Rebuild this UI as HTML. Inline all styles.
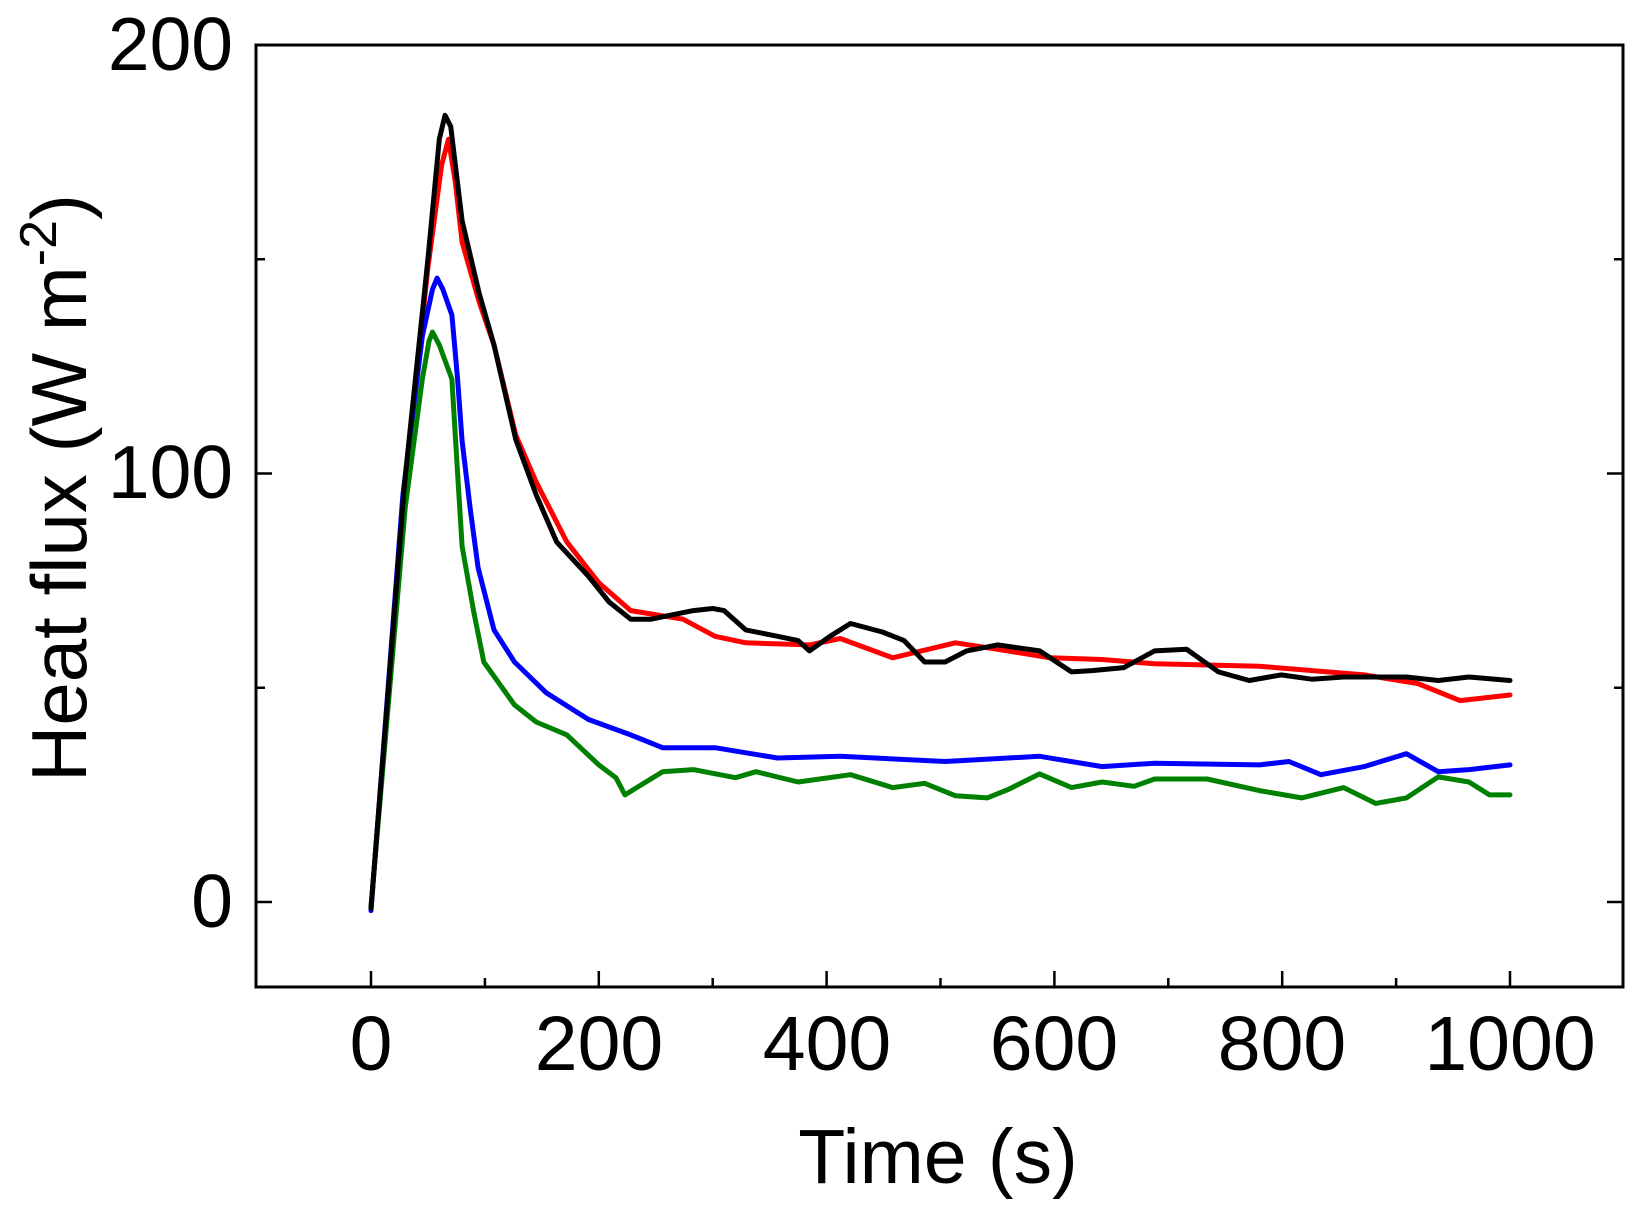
<!DOCTYPE html>
<html><head><meta charset="utf-8"><style>
html,body{margin:0;padding:0;background:#fff;}
svg{display:block;}
text{font-family:"Liberation Sans",Arial,sans-serif;fill:#000;}
</style></head><body>
<svg id="s" width="1646" height="1207" viewBox="0 0 1646 1207" xmlns="http://www.w3.org/2000/svg">
<g id="ticks" stroke="#000" stroke-width="2.5"></g>
<g id="series" fill="none" stroke-width="5" stroke-linejoin="round" stroke-linecap="round"></g>
<rect x="256" y="45" width="1367" height="942" fill="none" stroke="#000" stroke-width="3"/>
<g font-size="75" text-anchor="end">
<text x="233" y="70">200</text>
<text x="233" y="498">100</text>
<text x="233" y="927">0</text>
</g>
<g font-size="77" text-anchor="middle">
<text x="371" y="1070">0</text>
<text x="599" y="1070">200</text>
<text x="827" y="1070">400</text>
<text x="1054" y="1070">600</text>
<text x="1282" y="1070">800</text>
<text x="1510" y="1070">1000</text>
<text x="938" y="1183">Time (s)</text>
</g>
<text font-size="78" text-anchor="middle" transform="translate(86,488) rotate(-90)">Heat flux (W m<tspan dy="-30" font-size="52">-2</tspan><tspan dy="30">)</tspan></text>
</svg>
<script>
function X(t){return 371+t*1.139;}
function Y(v){return 902-v*4.285;}
var ns="http://www.w3.org/2000/svg";
var tk=document.getElementById('ticks');
function line(x1,y1,x2,y2){var l=document.createElementNS(ns,'line');l.setAttribute('x1',x1);l.setAttribute('y1',y1);l.setAttribute('x2',x2);l.setAttribute('y2',y2);tk.appendChild(l);}
for(var t=0;t<=1000;t+=100){var L=(t%200==0)?16:9;line(X(t),987,X(t),987-L);}
for(var v=0;v<=200;v+=50){var L=(v%100==0)?16:9;line(256,Y(v),256+L,Y(v));line(1623,Y(v),1623-L,Y(v));}
var data={
black:[[0,-1.5],[29.5,97.8],[50,150],[60,178],[65,183.6],[70,181],[75,170],[80,159],[95,142],[108,130],[127,108],[145,95],[163,84],[191,76],[209,70],[228,66],[246,66],[264,67],[283,68],[300,68.5],[310,68],[329,63.5],[357,62],[375,61],[385,58.6],[403,62],[421,65],[449,63],[468,61],[486,56],[504,56],[523,58.6],[550,60],[587,58.6],[615,53.7],[633,54],[661,54.7],[688,58.6],[716,59],[744,53.7],[771,51.7],[799,53],[826,52],[854,52.5],[882,52.5],[909,52.5],[937,51.7],[964,52.5],[1000,51.7]],
red:[[0,-1.5],[29.5,97],[50,148],[62,172],[68,178],[74,168],[80,154],[95,140],[108,130],[127,109],[145,98],[172,84],[200,74.5],[228,68],[274,66],[302,62],[329,60.5],[385,60],[412,61.5],[458,57],[513,60.5],[559,58.6],[596,57],[642,56.6],[688,55.6],[780,55],[872,53],[919,51],[956,47],[1000,48.3]],
blue:[[0,-2],[28,95],[45,132],[54,143],[58,145.6],[63,143],[71,137],[76,122],[80,107.6],[87,92],[94,78],[108,63.5],[126,56],[154,48.8],[191,42.6],[228,39],[256,36],[302,36],[357,33.6],[412,34],[504,32.8],[587,34],[642,31.6],[688,32.4],[780,32],[806,32.8],[834,29.7],[872,31.6],[909,34.6],[937,30.4],[964,30.9],[1000,32]],
green:[[0,-1],[30,92],[45,122],[51,131],[54,133],[60,130],[71,122],[76,100],[80,83],[90,68],[99,56],[126,46],[145,42],[172,39],[200,32],[215,29],[223,25],[256,30.4],[283,30.9],[320,29],[338,30.4],[375,28],[421,29.7],[458,26.7],[486,27.7],[513,24.8],[541,24.3],[559,26.2],[587,29.9],[615,26.7],[642,28],[670,27],[688,28.7],[734,28.7],[780,26],[817,24.3],[854,26.7],[882,23],[909,24.3],[937,29.2],[964,28],[982,25],[1000,25]]
};
var cols={red:'#ff0000',blue:'#0000ff',green:'#008000',black:'#000000'};
var g=document.getElementById('series');
['red','blue','green','black'].forEach(function(k){var p=document.createElementNS(ns,'polyline');p.setAttribute('points',data[k].map(function(d){return X(d[0]).toFixed(1)+','+Y(d[1]).toFixed(1);}).join(' '));p.setAttribute('stroke',cols[k]);g.appendChild(p);});
</script>
</body></html>
